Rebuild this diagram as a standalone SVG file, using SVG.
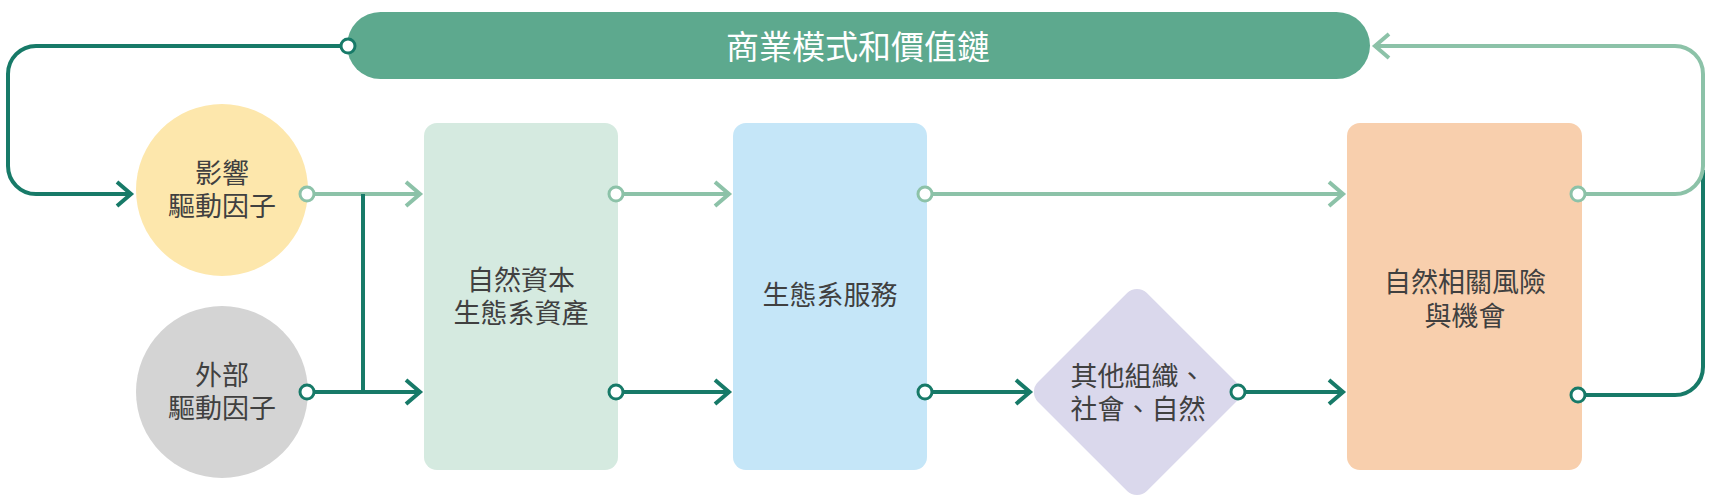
<svg xmlns="http://www.w3.org/2000/svg" width="1715" height="503" viewBox="0 0 1715 503">
<style>
  text { font-family: "Liberation Sans", "Noto Sans CJK TC", sans-serif; font-size: 27px; fill: #404040; text-anchor: middle; dominant-baseline: central; }
  .title { fill: #ffffff; font-size: 33px; }
  .dk { fill: none; stroke: #177A68; stroke-width: 4; }
  .lt { fill: none; stroke: #8CC2A8; stroke-width: 4; }
  .pdk { fill: #ffffff; stroke: #177A68; stroke-width: 3; }
  .plt { fill: #ffffff; stroke: #8CC2A8; stroke-width: 3; }
</style>
<defs>
  <marker id="ahd" markerUnits="userSpaceOnUse" markerWidth="30" markerHeight="30" viewBox="-20 -15 24 30" refX="0" refY="0" orient="auto" overflow="visible">
    <path d="M -14 -12 L 0 0 L -14 12" fill="none" stroke="#177A68" stroke-width="4"/>
  </marker>
  <marker id="ahl" markerUnits="userSpaceOnUse" markerWidth="30" markerHeight="30" viewBox="-20 -15 24 30" refX="0" refY="0" orient="auto" overflow="visible">
    <path d="M -14 -12 L 0 0 L -14 12" fill="none" stroke="#8CC2A8" stroke-width="4"/>
  </marker>
</defs>
<rect width="1715" height="503" fill="#ffffff"/>

<g id="business-model">
  <rect x="347" y="12" width="1023" height="67" rx="33.5" fill="#5DA98E"/>
  <text class="title" x="858" y="47">商業模式和價值鏈</text>
</g>
<g id="impact-drivers">
  <circle cx="222" cy="190" r="86" fill="#FDE7AC"/>
  <text x="222" y="174">影響</text>
  <text x="222" y="207">驅動因子</text>
</g>
<g id="external-drivers">
  <circle cx="222" cy="392" r="86" fill="#D4D4D4"/>
  <text x="222" y="376">外部</text>
  <text x="222" y="409">驅動因子</text>
</g>
<g id="natural-capital">
  <rect x="424" y="123" width="194" height="347" rx="13" fill="#D5EAE0"/>
  <text x="521" y="281">自然資本</text>
  <text x="521" y="314">生態系資產</text>
</g>
<g id="ecosystem-services">
  <rect x="733" y="123" width="194" height="347" rx="13" fill="#C5E6F8"/>
  <text x="830" y="296">生態系服務</text>
</g>
<g id="others">
  <rect x="1060" y="315" width="154" height="154" rx="14" fill="#DAD8EC" transform="rotate(45 1137 392)"/>
  <text x="1138" y="377">其他組織、</text>
  <text x="1138" y="410">社會、自然</text>
</g>
<g id="risks-opportunities">
  <rect x="1347" y="123" width="235" height="347" rx="13" fill="#F8CFAD"/>
  <text x="1465" y="283">自然相關風險</text>
  <text x="1465" y="317">與機會</text>
</g>

<g id="connectors">
  <path class="dk" d="M 348 46 H 36 A 28 28 0 0 0 8 74 V 166 A 28 28 0 0 0 36 194 H 131" marker-end="url(#ahd)"/>
  <path class="lt" d="M 307 194 H 420" marker-end="url(#ahl)"/>
  <path class="dk" d="M 307 392 H 420" marker-end="url(#ahd)"/>
  <path class="dk" d="M 363 194 V 392"/>
  <path class="lt" d="M 616 194 H 729" marker-end="url(#ahl)"/>
  <path class="dk" d="M 616 392 H 729" marker-end="url(#ahd)"/>
  <path class="lt" d="M 925 194 H 1343" marker-end="url(#ahl)"/>
  <path class="dk" d="M 925 392 H 1030" marker-end="url(#ahd)"/>
  <path class="dk" d="M 1238 392 H 1343" marker-end="url(#ahd)"/>
  <path class="dk" d="M 1578 395 H 1675 A 28 28 0 0 0 1703 367 V 170"/>
  <path class="lt" d="M 1578 194 H 1675 A 28 28 0 0 0 1703 166 V 74 A 28 28 0 0 0 1675 46 H 1375" marker-end="url(#ahl)"/>
  <circle class="pdk" cx="348" cy="46" r="7"/>
  <circle class="plt" cx="307" cy="194" r="7"/>
  <circle class="pdk" cx="307" cy="392" r="7"/>
  <circle class="plt" cx="616" cy="194" r="7"/>
  <circle class="pdk" cx="616" cy="392" r="7"/>
  <circle class="plt" cx="925" cy="194" r="7"/>
  <circle class="pdk" cx="925" cy="392" r="7"/>
  <circle class="pdk" cx="1238" cy="392" r="7"/>
  <circle class="plt" cx="1578" cy="194" r="7"/>
  <circle class="pdk" cx="1578" cy="395" r="7"/>
</g>
</svg>
